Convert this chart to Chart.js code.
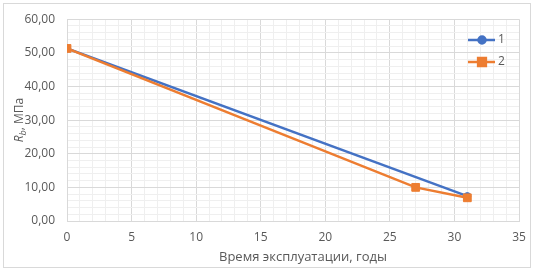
<!DOCTYPE html>
<html>
<head>
<meta charset="utf-8">
<script src="https://cdn.jsdelivr.net/npm/chart.js@4/dist/chart.umd.min.js"></script>
<style>
  html, body { margin: 0; padding: 0; background: #fff; }
  #chart { display: block; }
</style>
</head>
<body>
<canvas id="chart" width="535" height="270"></canvas>
<script>
// data
const labels = ['1', '2'];
const series1X = [0, 31];
const series1Y = [51.3, 7.4];
const series2X = [0, 27, 31];
const series2Y = [51.3, 10.0, 6.9];
const xTickLabels = [0, 5, 10, 15, 20, 25, 30, 35];
const yTickLabels = [0, 10, 20, 30, 40, 50, 60];
const xTitle = 'Время эксплуатации, годы';

const textColor = '#595959';
const majorGrid = '#d9d9d9';
const minorGrid = '#efefef';
const fontFamily = '"Open Sans", "Liberation Sans", sans-serif';

const toPoints = (xs, ys) => xs.map((x, i) => ({ x: x, y: ys[i] }));

// frame round the whole chart, axis titles and the legend
const extras = {
  id: 'extras',
  beforeDraw(chart) {
    const c = chart.ctx;
    c.save();
    c.fillStyle = '#fff';
    c.fillRect(0, 0, chart.width, chart.height);
    c.strokeStyle = '#d9d9d9';
    c.lineWidth = 1;
    c.strokeRect(3.5, 3.5, 527, 264);
    c.restore();
  },
  afterDraw(chart) {
    const c = chart.ctx;
    const area = chart.chartArea;

    // x title sits a bit right of the plot centre in the original
    c.save();
    c.fillStyle = textColor;
    c.font = '13px ' + fontFamily;
    c.textAlign = 'center';
    c.textBaseline = 'middle';
    c.fillText(xTitle, 303, 257);
    c.restore();

    // y title: italic R with subscript b
    c.save();
    c.translate(20, (area.top + area.bottom) / 2);
    c.rotate(-Math.PI / 2);
    c.fillStyle = textColor;
    c.textBaseline = 'middle';
    c.textAlign = 'left';
    const f1 = 'italic 12px ' + fontFamily;
    const f2 = 'italic 9px ' + fontFamily;
    const f3 = '12px ' + fontFamily;
    c.font = f1; const w1 = c.measureText('R').width;
    c.font = f2; const w2 = c.measureText('b').width;
    c.font = f3; const w3 = c.measureText(', МПа').width;
    let x = -(w1 + w2 + w3) / 2;
    c.font = f1; c.fillText('R', x, 0); x += w1;
    c.font = f2; c.fillText('b', x, 3); x += w2;
    c.font = f3; c.fillText(', МПа', x, 0);
    c.restore();

    // legend, drawn over the plot like the original
    const ds = chart.data.datasets;
    c.save();
    c.font = '12px ' + fontFamily;
    c.textBaseline = 'middle';
    ds.forEach((d, i) => {
      const y = 40 + i * 22;
      c.strokeStyle = d.borderColor;
      c.lineWidth = d.borderWidth;
      c.beginPath();
      c.moveTo(468, y);
      c.lineTo(495, y);
      c.stroke();
      Chart.helpers.drawPoint(c, {
        pointStyle: d.pointStyle, radius: d.pointRadius, borderWidth: 1
      }, 482, y);
      c.fillStyle = d.backgroundColor;
      c.fill();
      c.fillStyle = textColor;
      c.fillText(d.label, 498, y);
    });
    c.restore();
  }
};

new Chart(document.getElementById('chart'), {
  type: 'line',
  data: {
    datasets: [
      {
        label: labels[0],
        data: toPoints(series1X, series1Y),
        borderColor: '#4472c4',
        backgroundColor: '#4472c4',
        borderWidth: 2.5,
        pointStyle: 'circle',
        pointRadius: 3.5,
        pointBorderWidth: 1,
        order: 1
      },
      {
        label: labels[1],
        data: toPoints(series2X, series2Y),
        borderColor: '#ed7d31',
        backgroundColor: '#ed7d31',
        borderWidth: 2.5,
        pointStyle: 'rect',
        pointRadius: 5.5,
        pointBorderWidth: 1,
        order: 0
      }
    ]
  },
  options: {
    responsive: false,
    devicePixelRatio: 1,
    animation: false,
    layout: { padding: { left: 0, right: 16, top: 12, bottom: 0 } },
    plugins: {
      legend: { display: false },
      tooltip: { enabled: false }
    },
    scales: {
      x: {
        type: 'linear',
        min: 0,
        max: 35,
        afterFit: s => { s.height = 49; },
        border: { color: majorGrid },
        grid: {
          drawTicks: false,
          color: ctx => xTickLabels.includes(ctx.tick.value) ? majorGrid : minorGrid
        },
        ticks: {
          stepSize: 1,
          autoSkip: false,
          maxRotation: 0,
          padding: 9,
          color: textColor,
          font: { family: fontFamily, size: 12 },
          callback: v => xTickLabels.includes(v) ? String(v) : ''
        }
      },
      y: {
        min: 0,
        max: 60,
        afterFit: s => { s.width = 67; },
        border: { color: majorGrid },
        grid: {
          drawTicks: false,
          color: ctx => yTickLabels.includes(ctx.tick.value) ? majorGrid : minorGrid
        },
        ticks: {
          stepSize: 2,
          autoSkip: false,
          padding: 12,
          color: textColor,
          font: { family: fontFamily, size: 12 },
          callback: v => yTickLabels.includes(v) ? v.toFixed(2).replace('.', ',') : ''
        }
      }
    }
  },
  plugins: [extras]
});
</script>
</body>
</html>
